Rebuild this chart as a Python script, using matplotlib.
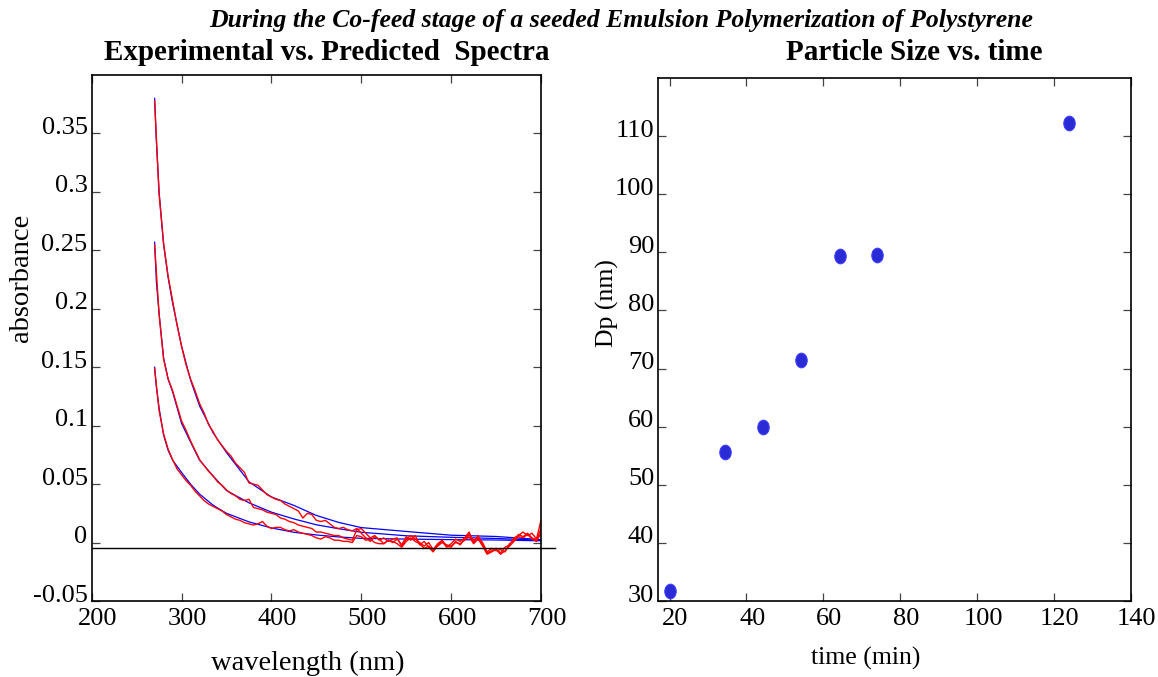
import numpy as np
import matplotlib
matplotlib.use("Agg")
import matplotlib.pyplot as plt
from matplotlib.path import Path
from matplotlib.transforms import Affine2D, ScaledTranslation

plt.rcParams['font.family'] = ['Liberation Serif', 'DejaVu Serif']

# predicted spectra (blue), three samples
wl_pred = [270, 272, 275, 280, 285, 290, 300, 310, 320, 335, 350, 375, 400,
           425, 450, 475, 500, 550, 600, 650, 700]
pred_a = [0.380, 0.343, 0.300, 0.255, 0.227, 0.205, 0.168, 0.139, 0.117, 0.094,
          0.077, 0.052, 0.039, 0.0318, 0.0232, 0.0172, 0.0128, 0.0095, 0.0063,
          0.0052, 0.0025]
pred_b = [0.257, 0.223, 0.196, 0.158, 0.140, 0.129, 0.102, 0.086, 0.0705, 0.057,
          0.0445, 0.034, 0.026, 0.0202, 0.0152, 0.0118, 0.0088, 0.0058, 0.0045,
          0.0035, 0.002]
pred_c = [0.150, 0.133, 0.115, 0.092, 0.079, 0.0705, 0.060, 0.050, 0.0415, 0.032,
          0.025, 0.0177, 0.0125, 0.0088, 0.0065, 0.0048, 0.0036, 0.0030, 0.0025,
          0.0022, 0.0015]

# experimental spectra (red), 5 nm steps from 270 to 700 nm
wl_exp = np.arange(270, 705, 5)
exp_a = [0.378, 0.298, 0.256, 0.228, 0.207, 0.186, 0.168, 0.152, 0.140, 0.130,
         0.119, 0.111, 0.101, 0.095, 0.088, 0.083, 0.078, 0.074, 0.068, 0.064,
         0.060, 0.051, 0.050, 0.049, 0.045, 0.041, 0.039, 0.037, 0.036, 0.033,
         0.031, 0.029, 0.027, 0.021, 0.025, 0.024, 0.019, 0.018, 0.019, 0.016,
         0.013, 0.012, 0.013, 0.011, 0.010, 0.012, 0.008, 0.004, 0.001, 0.005,
         0.003, -0.001, 0.002, 0.000, 0.003, -0.002, 0.005, 0.002, 0.006, -0.002,
         0.001, -0.004, -0.008, -0.002, 0.001, -0.004, -0.001, 0.003, 0.001, 0.004,
         0.009, 0.000, 0.006, -0.002, -0.009, -0.007, -0.005, -0.009, -0.004, -0.002,
         0.004, 0.006, 0.009, 0.006, 0.008, 0.003, 0.019]
exp_b = [0.255, 0.195, 0.157, 0.140, 0.130, 0.117, 0.104, 0.096, 0.087, 0.079,
         0.071, 0.066, 0.061, 0.057, 0.052, 0.049, 0.045, 0.042, 0.040, 0.037,
         0.036, 0.037, 0.030, 0.029, 0.028, 0.026, 0.025, 0.024, 0.021, 0.020,
         0.018, 0.017, 0.015, 0.014, 0.013, 0.012, 0.009, 0.009, 0.008, 0.007,
         0.006, 0.006, 0.004, 0.003, 0.002, 0.011, 0.012, 0.008, 0.004, 0.006,
         0.002, 0.004, 0.001, 0.003, 0.004, -0.003, 0.003, 0.006, 0.003, 0.000,
         -0.003, 0.000, -0.006, -0.001, 0.002, -0.003, -0.004, 0.001, -0.002, 0.003,
         0.007, 0.002, 0.004, 0.000, -0.008, -0.005, -0.007, -0.006, -0.008, -0.001,
         0.002, 0.007, 0.005, 0.008, 0.004, 0.002, 0.012]
exp_c = [0.149, 0.113, 0.093, 0.080, 0.071, 0.063, 0.058, 0.053, 0.049, 0.044,
         0.040, 0.036, 0.033, 0.031, 0.029, 0.027, 0.024, 0.022, 0.020, 0.019,
         0.017, 0.016, 0.015, 0.016, 0.018, 0.014, 0.012, 0.013, 0.013, 0.011,
         0.010, 0.011, 0.009, 0.008, 0.007, 0.006, 0.004, 0.003, 0.005, 0.004,
         0.002, 0.002, 0.001, 0.001, 0.000, 0.006, 0.005, 0.002, 0.003, 0.000,
         -0.001, -0.001, 0.002, 0.001, -0.001, -0.004, 0.001, 0.004, 0.001, -0.001,
         -0.005, -0.003, -0.007, -0.003, 0.000, -0.002, -0.003, 0.000, -0.001, 0.002,
         0.005, -0.001, 0.003, -0.003, -0.010, -0.008, -0.006, -0.010, -0.007, -0.003,
         0.001, 0.005, 0.004, 0.007, 0.003, 0.001, 0.008]

# particle size
time_min = [20.2, 34.3, 44.2, 54.2, 64.4, 74.1, 124.0]
dp_nm = [31.8, 55.6, 60.0, 71.5, 89.3, 89.6, 112.2]

W, H = 1158, 677
fig = plt.figure(figsize=(W / 100, H / 100), dpi=100)


def box(l, t, r, b):
    return [l / W, 1 - b / H, (r - l) / W, (b - t) / H]


ax1 = fig.add_axes(box(91.7, 75, 541, 601))
ax2 = fig.add_axes(box(658.4, 78, 1130.8, 601))

for ax in (ax1, ax2):
    ax.tick_params(direction='in', length=6, width=0.9, color='#444444',
                   top=True, right=True, labelsize=19)
    ax.tick_params(axis='y', pad=3)
    ax.tick_params(axis='x', pad=5)
    for s in ax.spines.values():
        s.set_linewidth(1.2)

# left: spectra
for y in (pred_a, pred_b, pred_c):
    ax1.plot(wl_pred, y, color='blue', lw=0.9)
for y in (exp_a, exp_b, exp_c):
    ax1.plot(wl_exp, y, color='red', lw=1.0)
ax1.plot([200, 716], [-0.0045, -0.0045], color='black', lw=1, clip_on=False)
ax1.set_xlim(200, 700)
ax1.set_ylim(-0.05, 0.4)
ax1.set_xticks([200, 300, 400, 500, 600, 700])
ax1.set_yticks([-0.05, 0, 0.05, 0.1, 0.15, 0.2, 0.25, 0.3, 0.35])
ax1.set_yticklabels(['-0.05', '0', '0.05', '0.1', '0.15', '0.2', '0.25', '0.3', '0.35'])

# right: particle size
ell = Path.unit_circle().transformed(Affine2D().scale(0.78, 1.0))
ax2.plot(time_min, dp_nm, linestyle='none', marker=ell, markersize=10.5,
         markerfacecolor='#2b2bd6', markeredgecolor='#3a3aff', markeredgewidth=0.8)
ax2.set_xlim(17.1, 140)
ax2.set_ylim(30, 120)
ax2.set_xticks([20, 40, 60, 80, 100, 120, 140])
ax2.set_yticks([30, 40, 50, 60, 70, 80, 90, 100, 110])

# tick labels sit a little up / right of their ticks
for ax in (ax1, ax2):
    up = ScaledTranslation(0, 8 / 100, fig.dpi_scale_trans)
    right = ScaledTranslation(6 / 100, 0, fig.dpi_scale_trans)
    for lab in ax.get_yticklabels():
        lab.set_transform(lab.get_transform() + up)
    for lab in ax.get_xticklabels():
        lab.set_transform(lab.get_transform() + right)

# texts
fig.text(621 / W, 1 - 20 / H, "During the Co-feed stage of a seeded Emulsion Polymerization of Polystyrene",
         ha='center', va='center', fontsize=18.5, fontweight='bold', fontstyle='italic')
fig.text(327 / W, 1 - 52 / H, "Experimental vs. Predicted  Spectra",
         ha='center', va='center', fontsize=21, fontweight='bold')
fig.text(914 / W, 1 - 53 / H, "Particle Size vs. time",
         ha='center', va='center', fontsize=21, fontweight='bold')
fig.text(308 / W, 1 - 663 / H, "wavelength (nm)", ha='center', va='center', fontsize=20.5)
fig.text(22 / W, 1 - 278 / H, "absorbance", ha='center', va='center', fontsize=20.5, rotation=90)
fig.text(866 / W, 1 - 658 / H, "time (min)", ha='center', va='center', fontsize=18.5)
fig.text(607 / W, 1 - 303 / H, "Dp (nm)", ha='center', va='center', fontsize=18.5, rotation=90)

plt.savefig("out.png", dpi=100)
